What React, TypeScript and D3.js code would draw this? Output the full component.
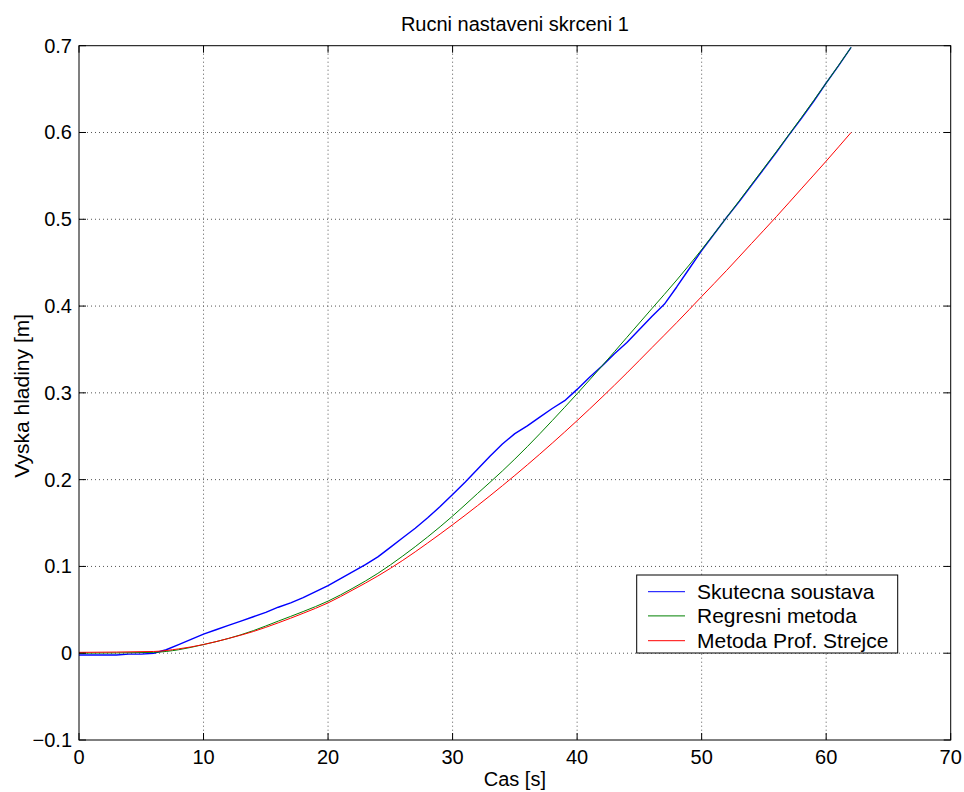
import React from "react";
import * as d3 from "d3";

// Measured water level (blue), regression model (green), Strejc method (red)
const timeSkutecna = [0, 1, 2, 3, 4, 5, 6, 6.5, 7, 8, 9, 10, 11, 12, 13, 14, 15, 16, 17, 18, 19, 20, 21, 22, 23, 24, 25, 26, 27, 28, 29, 30, 31, 32, 33, 34, 35, 36, 37, 38, 39, 40, 41, 42, 43, 44, 45, 46, 47, 48, 49, 50, 51, 52, 53, 54, 55, 56, 57, 58, 59, 60, 61, 62];
const levelSkutecna = [-0.002, -0.002, -0.002, -0.002, -0.001, -0.001, 0.0, 0.002, 0.004, 0.01, 0.016, 0.022, 0.027, 0.032, 0.037, 0.042, 0.047, 0.053, 0.058, 0.064, 0.071, 0.078, 0.086, 0.094, 0.102, 0.111, 0.122, 0.133, 0.144, 0.156, 0.169, 0.183, 0.197, 0.212, 0.227, 0.241, 0.253, 0.262, 0.272, 0.282, 0.291, 0.304, 0.318, 0.331, 0.345, 0.358, 0.373, 0.388, 0.402, 0.422, 0.443, 0.464, 0.483, 0.502, 0.52, 0.539, 0.558, 0.577, 0.597, 0.616, 0.636, 0.657, 0.677, 0.698];

const timeRegresni = [0, 6, 8, 10, 12, 14, 16, 18, 20, 22, 24, 26, 28, 30, 32, 34, 36, 38, 40, 42, 44, 46, 48, 50, 52, 54, 56, 58, 60, 62];
const levelRegresni = [0.0, 0.001, 0.004, 0.01, 0.017, 0.026, 0.037, 0.048, 0.06, 0.075, 0.092, 0.112, 0.134, 0.158, 0.184, 0.21, 0.238, 0.268, 0.299, 0.331, 0.364, 0.397, 0.43, 0.465, 0.502, 0.54, 0.578, 0.617, 0.657, 0.698];

const timeStrejc = [0, 6, 8, 10, 12, 14, 16, 18, 20, 22, 24, 26, 28, 30, 32, 34, 36, 38, 40, 42, 44, 46, 48, 50, 52, 54, 56, 58, 60, 62];
const levelStrejc = [0.001, 0.002, 0.005, 0.01, 0.017, 0.025, 0.035, 0.046, 0.058, 0.073, 0.089, 0.107, 0.127, 0.148, 0.17, 0.193, 0.217, 0.242, 0.268, 0.295, 0.323, 0.352, 0.381, 0.411, 0.441, 0.472, 0.503, 0.535, 0.567, 0.6];

const xTicks = [0, 10, 20, 30, 40, 50, 60, 70];
const yTicks = [-0.1, 0, 0.1, 0.2, 0.3, 0.4, 0.5, 0.6, 0.7];

const seriesNames = ["Skutecna soustava", "Regresni metoda", "Metoda Prof. Strejce"];
const seriesColors = ["#0000ff", "#008000", "#ff0000"];

const W = 964;
const H = 792;
const left = 79;
const right = 950.7;
const top = 45.7;
const bottom = 740;
const font = "'Liberation Sans', Arial, sans-serif";

export default function App() {
  const x = d3.scaleLinear().domain([0, 70]).range([left, right]);
  const y = d3.scaleLinear().domain([-0.1, 0.7]).range([bottom, top]);

  const toPts = (ts: number[], vs: number[]) => ts.map((t, i) => [t, vs[i]] as [number, number]);
  const lineLinear = d3.line<[number, number]>().x((d) => x(d[0])).y((d) => y(d[1]));
  const lineSmooth = d3
    .line<[number, number]>()
    .x((d) => x(d[0]))
    .y((d) => y(d[1]))
    .curve(d3.curveMonotoneX);

  const series = [
    { d: lineLinear(toPts(timeSkutecna, levelSkutecna)), color: seriesColors[0], w: 1.4 },
    { d: lineSmooth(toPts(timeRegresni, levelRegresni)), color: seriesColors[1], w: 1 },
    { d: lineSmooth(toPts(timeStrejc, levelStrejc)), color: seriesColors[2], w: 1 },
  ];

  const tickLen = 7;
  const legX = 636.7;
  const legY = 575;
  const legW = 261;
  const legH = 78;
  const rowY = [591.7, 615.9, 640.7];

  return (
    <svg
      width={W}
      height={H}
      style={{ position: "absolute", left: 0, top: 0, background: "#fff" }}
      fontFamily={font}
    >
      <rect x={0} y={0} width={W} height={H} fill="#fff" />
      {/* grid */}
      <g stroke="#555" strokeWidth={1} strokeDasharray="1,3">
        {xTicks.slice(1, -1).map((t) => (
          <line key={"gx" + t} x1={x(t)} x2={x(t)} y1={top} y2={bottom} />
        ))}
        {yTicks.slice(1, -1).map((t) => (
          <line key={"gy" + t} x1={left} x2={right} y1={y(t)} y2={y(t)} />
        ))}
      </g>
      {/* data */}
      <g fill="none">
        {series.map((s, i) => (
          <path key={i} d={s.d || ""} stroke={s.color} strokeWidth={s.w} strokeLinejoin="round" />
        ))}
      </g>
      {/* box and ticks */}
      <rect x={left} y={top} width={right - left} height={bottom - top} fill="none" stroke="#000" strokeWidth={1} />
      <g stroke="#000" strokeWidth={1}>
        {xTicks.map((t) => (
          <g key={"tx" + t}>
            <line x1={x(t)} x2={x(t)} y1={bottom} y2={bottom - tickLen} />
            <line x1={x(t)} x2={x(t)} y1={top} y2={top + tickLen} />
          </g>
        ))}
        {yTicks.map((t) => (
          <g key={"ty" + t}>
            <line x1={left} x2={left + tickLen} y1={y(t)} y2={y(t)} />
            <line x1={right} x2={right - tickLen} y1={y(t)} y2={y(t)} />
          </g>
        ))}
      </g>
      {/* tick labels */}
      <g fontSize={20} fill="#000">
        {xTicks.map((t) => (
          <text key={"lx" + t} x={x(t)} y={764} textAnchor="middle">
            {d3.format("d")(t)}
          </text>
        ))}
        {yTicks.map((t) => (
          <text key={"ly" + t} x={72} y={y(t)} dy="0.35em" textAnchor="end">
            {t === 0 ? "0" : d3.format(".1f")(t)}
          </text>
        ))}
      </g>
      {/* title and axis labels */}
      <text x={(left + right) / 2} y={31} textAnchor="middle" fontSize={20}>
        Rucni nastaveni skrceni 1
      </text>
      <text x={(left + right) / 2} y={786} textAnchor="middle" fontSize={20}>
        Cas [s]
      </text>
      <text
        transform={`translate(29, ${(top + bottom) / 2 + 3}) rotate(-90)`}
        textAnchor="middle"
        fontSize={21}
      >
        Vyska hladiny [m]
      </text>
      {/* legend */}
      <rect x={legX} y={legY} width={legW} height={legH} fill="#fff" stroke="#000" strokeWidth={1} />
      {seriesNames.map((name, i) => (
        <g key={name}>
          <line x1={648} x2={685} y1={rowY[i]} y2={rowY[i]} stroke={seriesColors[i]} strokeWidth={1} />
          <text x={697} y={rowY[i]} dy="0.35em" fontSize={21}>
            {name}
          </text>
        </g>
      ))}
    </svg>
  );
}
